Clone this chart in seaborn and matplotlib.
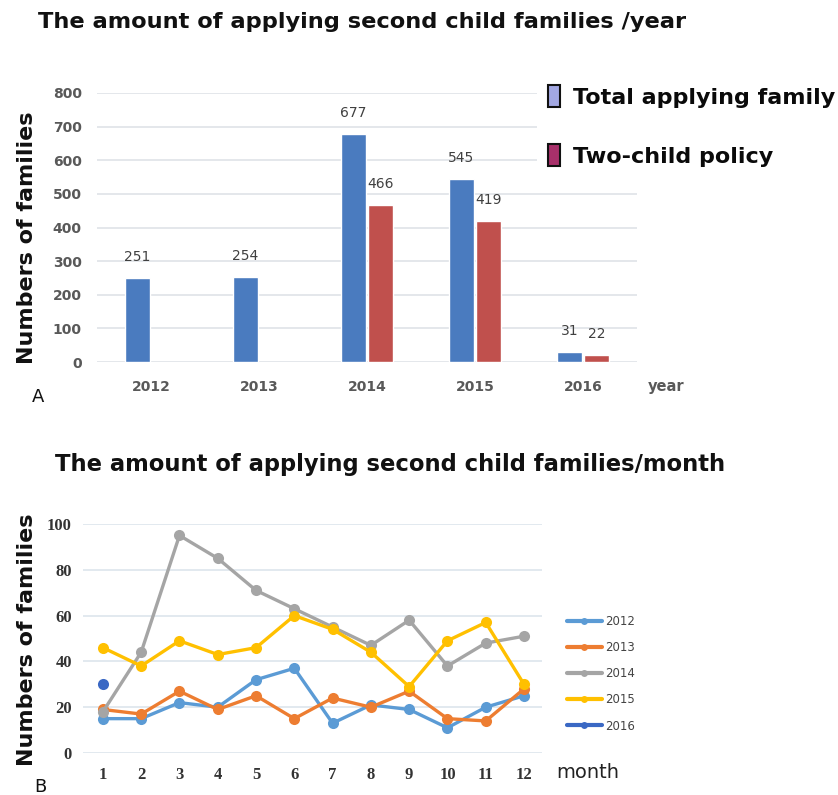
import numpy as np
import pandas as pd
import matplotlib
matplotlib.use("Agg")
import matplotlib.pyplot as plt
import seaborn as sns
from matplotlib.patches import Patch

# ---- data: panel A (per year) ----
years = ["2012", "2013", "2014", "2015", "2016"]
total_applying = [251, 254, 677, 545, 31]
two_child = [np.nan, np.nan, 466, 419, 22]
bar_series = ["Total applying family", "Two-child policy"]

# ---- data: panel B (per month) ----
months = list(range(1, 13))
m2012 = [15, 15, 22, 20, 32, 37, 13, 21, 19, 11, 20, 25]
m2013 = [19, 17, 27, 19, 25, 15, 24, 20, 27, 15, 14, 28]
m2014 = [18, 44, 95, 85, 71, 63, 55, 47, 58, 38, 48, 51]
m2015 = [46, 38, 49, 43, 46, 60, 54, 44, 29, 49, 57, 30]
m2016 = [30] + [np.nan] * 11
line_years = ["2012", "2013", "2014", "2015", "2016"]

sns.set_style("white")
plt.rcParams["font.family"] = ["DejaVu Sans"]

fig = plt.figure(figsize=(8.38, 7.95), dpi=100)
fig.patch.set_facecolor("white")

W, H = 838, 795
def fx(px): return px / W
def fy(py): return 1 - py / H

# ================= Panel A =================
axA = fig.add_axes([fx(97), fy(362), fx(637) - fx(97), fy(93) - fy(362)])
dfA = pd.DataFrame({
    "year": years * 2,
    "value": total_applying + two_child,
    "series": [bar_series[0]] * len(years) + [bar_series[1]] * len(years),
})
sns.barplot(data=dfA, x="year", y="value", hue="series", hue_order=bar_series,
            palette=["#4a7bbf", "#c0504d"], width=0.5, gap=0.1, saturation=1,
            legend=False, ax=axA)
axA.set_xlim(-0.5, 4.5)
axA.set_ylim(0, 800)
axA.set_yticks(range(0, 801, 100))
axA.yaxis.grid(True, color="#dfe3e8", lw=1.2)
axA.set_axisbelow(True)
for s in axA.spines.values():
    s.set_visible(False)
axA.tick_params(axis="both", length=0)
axA.tick_params(axis="x", pad=13)
axA.tick_params(axis="y", pad=11)
for lbl in axA.get_xticklabels() + axA.get_yticklabels():
    lbl.set_fontweight("bold")
    lbl.set_color("#595959")
    lbl.set_fontsize(10)
axA.set_xlabel("")
axA.set_ylabel("")
for cont in axA.containers:
    labels = ["" if np.isnan(v) else f"{int(v)}" for v in cont.datavalues]
    axA.bar_label(cont, labels=labels, padding=10, fontsize=10, color="#404040")

fig.text(fx(38), fy(22), "The amount of applying second child families /year",
         fontsize=16.2, fontweight="bold", color="#111111", ha="left", va="center")
fig.text(fx(27), fy(238), "Numbers of families", rotation=90, fontsize=16,
         fontweight="bold", color="#111111", ha="center", va="center")
fig.text(fx(648), fy(386), "year", fontsize=10.5, fontweight="bold",
         color="#595959", ha="left", va="center")
fig.text(fx(38), fy(397), "A", fontsize=13, color="#111111", ha="center", va="center")

leg_handles = [Patch(facecolor="#a3a8e3", edgecolor="#111111", lw=1.5),
               Patch(facecolor="#a8306a", edgecolor="#111111", lw=1.5)]
legA = axA.legend(leg_handles, bar_series, loc="upper left",
                  bbox_to_anchor=(fx(537), fy(74)), bbox_transform=fig.transFigure,
                  borderaxespad=0, frameon=True, framealpha=1, facecolor="white",
                  edgecolor="white", handlelength=0.55, handleheight=1.15,
                  handletextpad=0.55, labelspacing=1.65, borderpad=0.5,
                  labelcolor="#0a0a0a",
                  prop={"weight": "bold", "size": 16})
legA.get_frame().set_linewidth(0)

# ================= Panel B =================
axB = fig.add_axes([fx(83), fy(753), fx(542) - fx(83), fy(524) - fy(753)])
dfB = pd.DataFrame({
    "month": months * 5,
    "value": m2012 + m2013 + m2014 + m2015 + m2016,
    "year": sum([[y] * 12 for y in line_years], []),
})
line_pal = {"2012": "#5b9bd5", "2013": "#ed7d31", "2014": "#a5a5a5",
            "2015": "#ffc000", "2016": "#3a68c4"}
sns.lineplot(data=dfB, x="month", y="value", hue="year", hue_order=line_years,
             palette=line_pal, marker="o", markersize=8, markeredgewidth=0,
             lw=2.4, ax=axB)
axB.set_xlim(0.48, 12.47)
axB.set_ylim(0, 100)
axB.set_xticks(months)
axB.set_yticks(range(0, 101, 20))
axB.yaxis.grid(True, color="#dde5ec", lw=1.2)
axB.set_axisbelow(True)
for s in axB.spines.values():
    s.set_visible(False)
axB.tick_params(axis="both", length=0)
axB.tick_params(axis="x", pad=10)
axB.tick_params(axis="y", pad=8)
for lbl in axB.get_xticklabels() + axB.get_yticklabels():
    lbl.set_fontfamily("Liberation Serif")
    lbl.set_fontweight("bold")
    lbl.set_color("#333333")
    lbl.set_fontsize(12)
axB.set_xlabel("")
axB.set_ylabel("")
for ln in axB.lines:
    ln.set_clip_on(False)

handles, labels = axB.get_legend_handles_labels()
legB = axB.legend(handles, labels, loc="upper left",
                  bbox_to_anchor=(fx(562), fy(610)), bbox_transform=fig.transFigure,
                  borderaxespad=0, frameon=False, handlelength=3.0,
                  handletextpad=0.25, labelspacing=1.12, fontsize=8.5,
                  labelcolor="#444444")
for h in legB.legend_handles:
    h.set_markersize(5)
    h.set_linewidth(3)

fig.text(fx(55), fy(465), "The amount of applying second child families/month",
         fontsize=16.3, fontweight="bold", color="#111111", ha="left", va="center")
fig.text(fx(27), fy(640), "Numbers of families", rotation=90, fontsize=16,
         fontweight="bold", color="#111111", ha="center", va="center")
fig.text(fx(556), fy(773), "month", fontsize=14, color="#222222",
         ha="left", va="center")
fig.text(fx(40), fy(787), "B", fontsize=13, color="#111111", ha="center", va="center")

fig.savefig("out.png", dpi=100, facecolor="white")
